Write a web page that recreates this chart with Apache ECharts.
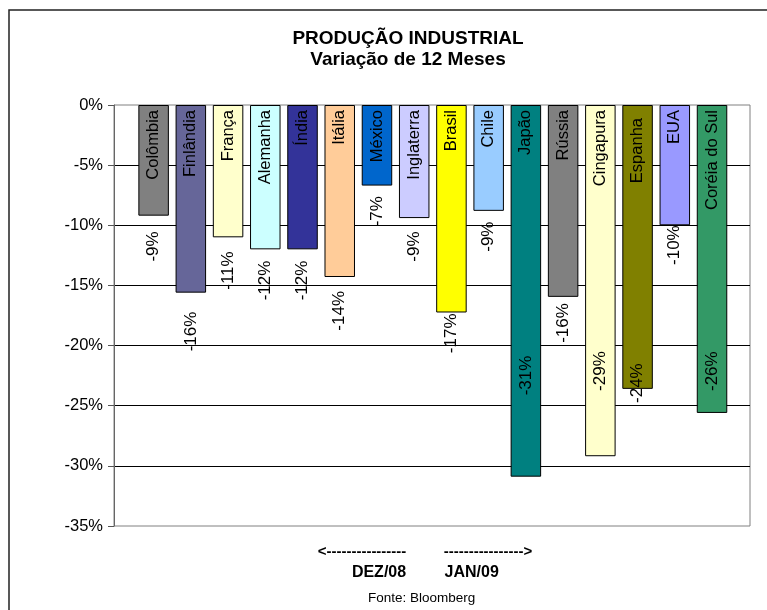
<!DOCTYPE html>
<html>
<head>
<meta charset="utf-8">
<script src="https://cdn.jsdelivr.net/npm/echarts@6/dist/echarts.min.js"></script>
<style>
  html, body { margin: 0; padding: 0; background: #fff; }
  #chart { width: 767px; height: 610px; }
</style>
</head>
<body>
<div id="chart"></div>
<script>
// ---- data ----
const countries = ['Colômbia', 'Finlândia', 'França', 'Alemanha', 'Índia', 'Itália', 'México', 'Inglaterra',
                   'Brasil', 'Chile', 'Japão', 'Rússia', 'Cingapura', 'Espanha', 'EUA', 'Coréia do Sul'];
const values = [-9.2, -15.6, -11.0, -12.0, -12.0, -14.3, -6.7, -9.4,
                -17.25, -8.8, -30.9, -15.95, -29.2, -23.6, -10.0, -25.6];
const yTicks = [0, -5, -10, -15, -20, -25, -30, -35];
const titleText = 'PRODUÇÃO INDUSTRIAL';
const subtitleText = 'Variação de 12 Meses';
const leftArrow = '<----------------';
const rightArrow = '---------------->';
const leftPeriod = 'DEZ/08';
const rightPeriod = 'JAN/09';
const sourceText = 'Fonte: Bloomberg';

// ---- style ----
const barColors = ['#808080', '#666699', '#FFFFCC', '#CCFFFF', '#333399', '#FFCC99', '#0066CC', '#CCCCFF',
                   '#FFFF00', '#99CCFF', '#008080', '#808080', '#FFFFCC', '#808000', '#9999FF', '#339966'];
const valueLabelGap = [15.7, 19, 14, 11.3, 11.3, 14, 10.5, 13.4, 1, 10.7, -121, 6.3, -105, -25.6, 0, -61.6];
const nameLabelGap = [5, 5, 5, 5, 5, 5, 5, 5, 5, 5, 5, 5, 5, 13, 5, 5];
const FONT = 'Liberation Sans, Arial, sans-serif';

const chart = echarts.init(document.getElementById('chart'), null, { renderer: 'canvas' });

const nameData = values.map((v, i) => ({
  value: [i, v],
  itemStyle: { color: barColors[i] },
  label: { distance: nameLabelGap[i] }
}));
const valueData = values.map((v, i) => ({
  value: [i, v],
  label: { distance: valueLabelGap[i] }
}));

const option = {
  backgroundColor: '#ffffff',
  animation: false,
  title: {
    text: titleText + '\n' + subtitleText,
    left: 403,
    top: 23,
    textAlign: 'center',
    textStyle: { fontFamily: FONT, fontWeight: 'bold', fontSize: 19, lineHeight: 21.5, color: '#000' }
  },
  grid: {
    left: 114, right: 17, top: 105, bottom: 84,
    show: true, borderColor: '#808080', borderWidth: 1, backgroundColor: '#fff'
  },
  xAxis: {
    type: 'value',
    min: -1.064, max: 16.02,
    axisLine: { show: false, onZero: false }, axisTick: { show: false }, axisLabel: { show: false },
    splitLine: { show: false }
  },
  yAxis: {
    type: 'value',
    min: yTicks[yTicks.length - 1], max: yTicks[0], interval: 5,
    axisLine: { show: true, onZero: false, lineStyle: { color: '#666', width: 1 } },
    axisTick: { show: true, length: 6, lineStyle: { color: '#555' } },
    axisLabel: { formatter: v => v + '%', fontFamily: FONT, fontSize: 16.5, color: '#000', margin: 11 },
    splitLine: { show: true, showMinLine: false, showMaxLine: false, lineStyle: { color: '#000', width: 1 } }
  },
  series: [
    {
      type: 'bar',
      data: nameData,
      barWidth: 30.5,
      barGap: '-100%',
      itemStyle: { borderColor: '#000', borderWidth: 1 },
      label: {
        show: true,
        position: 'insideTop',
        rotate: 90,
        align: 'right',
        verticalAlign: 'middle',
        fontFamily: FONT, fontSize: 16.5, color: '#000',
        formatter: p => countries[p.dataIndex]
      },
      z: 2
    },
    {
      type: 'bar',
      data: valueData,
      barWidth: 30.5,
      barGap: '-100%',
      itemStyle: { color: 'rgba(0,0,0,0)', borderWidth: 0 },
      label: {
        show: true,
        position: 'bottom',
        rotate: 90,
        align: 'right',
        verticalAlign: 'middle',
        fontFamily: FONT, fontSize: 17, color: '#000',
        formatter: p => Math.round(values[p.dataIndex]) + '%'
      },
      z: 3
    }
  ],
  graphic: [
    { type: 'rect', shape: { x: 9, y: 10, width: 800, height: 700 }, style: { fill: 'none', stroke: '#222', lineWidth: 1.5 }, silent: true, z: 100 },
    { type: 'text', x: 362, y: 552, style: { text: leftArrow, font: 'bold 15px ' + FONT, fill: '#000', textAlign: 'center', textVerticalAlign: 'middle' } },
    { type: 'text', x: 488, y: 552, style: { text: rightArrow, font: 'bold 15px ' + FONT, fill: '#000', textAlign: 'center', textVerticalAlign: 'middle' } },
    { type: 'text', x: 379, y: 573, style: { text: leftPeriod, font: 'bold 16px ' + FONT, fill: '#000', textAlign: 'center', textVerticalAlign: 'middle' } },
    { type: 'text', x: 471.7, y: 573, style: { text: rightPeriod, font: 'bold 16px ' + FONT, fill: '#000', textAlign: 'center', textVerticalAlign: 'middle' } },
    { type: 'text', x: 421.7, y: 598, style: { text: sourceText, font: '13.5px ' + FONT, fill: '#000', textAlign: 'center', textVerticalAlign: 'middle' } }
  ]
};
chart.setOption(option);
</script>
</body>
</html>
